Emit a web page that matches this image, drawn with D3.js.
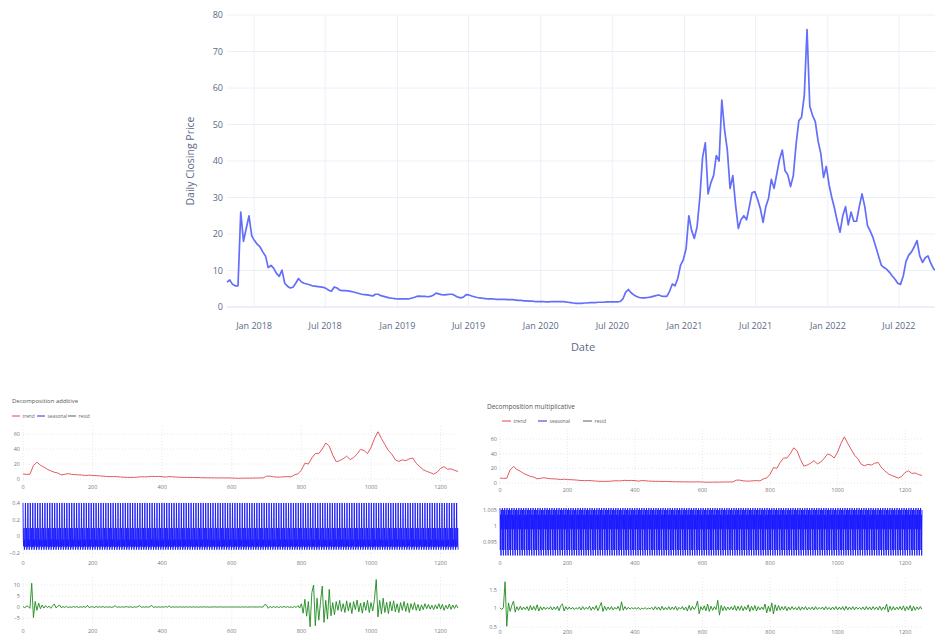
<!DOCTYPE html>
<html>
<head>
<meta charset="utf-8">
<script src="https://cdn.jsdelivr.net/npm/d3@7"></script>
<style>
    body { margin: 0; background: #fff; }
    svg { display: block; font-family: "Open Sans", "DejaVu Sans", sans-serif; }
</style>
</head>
<body>
<svg id="chart" width="935" height="636"></svg>
<script>
(function () {
    'use strict';

    // weekly closing price, first week starts here
    var startDate = new Date(2017, 9, 24);
    var weeklyClose = [
        6.8, 7.4, 6.2, 5.8, 5.8, 26.0, 18.0, 21.5, 25.0, 19.5,
        18.2, 17.2, 16.5, 15.1, 14.0, 10.8, 11.4, 10.6, 9.2, 8.4,
        10.1, 6.5, 5.7, 5.2, 5.4, 6.5, 7.8, 6.9, 6.5, 6.3,
        6.1, 5.8, 5.7, 5.6, 5.5, 5.4, 5.1, 4.6, 4.3, 5.5,
        5.2, 4.6, 4.5, 4.5, 4.4, 4.3, 4.1, 3.9, 3.7, 3.5,
        3.4, 3.3, 3.2, 3.0, 3.5, 3.5, 3.1, 2.9, 2.7, 2.5,
        2.4, 2.3, 2.2, 2.2, 2.2, 2.2, 2.2, 2.4, 2.6, 2.9,
        3.0, 2.9, 2.9, 2.8, 2.9, 3.2, 3.8, 3.6, 3.4, 3.3,
        3.4, 3.5, 3.5, 3.1, 2.7, 2.5, 2.7, 3.4, 3.3, 3.0,
        2.8, 2.6, 2.5, 2.4, 2.3, 2.2, 2.2, 2.2, 2.1, 2.1,
        2.1, 2.1, 2.0, 2.0, 2.0, 1.9, 1.8, 1.8, 1.7, 1.7,
        1.6, 1.6, 1.5, 1.5, 1.5, 1.5, 1.4, 1.4, 1.5, 1.5,
        1.5, 1.5, 1.5, 1.4, 1.3, 1.2, 1.1, 1.0, 1.0, 1.0,
        1.1, 1.1, 1.2, 1.2, 1.2, 1.3, 1.3, 1.3, 1.4, 1.4,
        1.4, 1.4, 1.4, 1.5, 2.2, 4.0, 4.8, 3.9, 3.3, 2.9,
        2.6, 2.5, 2.5, 2.6, 2.7, 2.9, 3.1, 3.3, 3.0, 2.9,
        2.9, 4.3, 6.3, 5.8, 7.9, 11.5, 13.0, 16.0, 25.0, 21.0,
        18.8, 22.0, 30.0, 41.0, 45.0, 31.0, 34.0, 36.0, 41.5, 40.0,
        56.7, 48.5, 43.0, 32.5, 36.0, 28.0, 21.5, 24.0, 25.0, 23.9,
        27.5, 31.3, 31.6, 29.5, 27.0, 23.2, 27.5, 29.8, 35.0, 32.5,
        36.5, 40.5, 43.0, 37.3, 36.2, 33.0, 36.0, 44.5, 51.0, 52.0,
        58.0, 76.0, 55.0, 52.5, 50.8, 45.5, 42.1, 35.5, 38.5, 33.5,
        30.0, 27.0, 23.5, 20.5, 25.0, 27.5, 22.5, 26.0, 23.5, 23.5,
        27.5, 31.0, 27.5, 22.3, 20.8, 19.0, 16.5, 14.0, 11.5, 10.8,
        10.3, 9.5, 8.5, 7.6, 6.5, 6.2, 8.5, 12.5, 14.2, 15.1,
        16.5, 18.2, 14.0, 12.2, 13.5, 14.0, 12.0, 10.5, 10.0, 10.2
    ];
    var priceTicks = [0, 10, 20, 30, 40, 50, 60, 70, 80];

    // decomposition: observation count, trend every 10 obs, residuals every 5 obs
    var nObs = 1251;
    var trendStep = 10;
    var trend = [
        6.8, 6.2, 6.5, 18, 22.5, 18.5, 16, 13, 11, 9,
        8, 5.6, 6.3, 7.2, 6.3, 5.8, 5.6, 5.3, 4.6, 5.2,
        4.6, 4.5, 4.2, 3.8, 3.4, 3.2, 3.3, 3.2, 2.7, 2.4,
        2.2, 2.2, 2.2, 2.6, 3.0, 2.9, 3.0, 3.6, 3.3, 3.5,
        3.2, 2.5, 3.3, 3.0, 2.6, 2.4, 2.2, 2.2, 2.1, 2.1,
        2.0, 1.8, 1.7, 1.6, 1.6, 1.5, 1.4, 1.5, 1.5, 1.5,
        1.3, 1.1, 1.0, 1.1, 1.2, 1.2, 1.3, 1.4, 1.4, 1.5,
        3.8, 3.9, 2.9, 2.5, 2.6, 3.0, 3.2, 2.9, 5.5, 6.8,
        12, 21, 20, 28, 34, 34, 40, 48, 44, 32,
        23, 24.5, 27, 30.5, 26, 28.5, 33.5, 39.5, 38, 34,
        42, 54, 63, 54, 46, 38, 33, 25.5, 23.5, 25.5,
        24.5, 27, 28, 21, 16.5, 12.5, 10.2, 8.6, 6.6, 9.0,
        14.3, 16.5, 13.0, 13.6, 11.5, 10.2
    ];
    var seasonalAddPattern = [0.40, -0.05, -0.12, 0.10, -0.16, -0.04, -0.13];
    var seasonalMultPattern = [1.0056, 0.9925, 1.0035, 0.9908, 1.0050, 0.9990, 1.0036];
    var residStep = 5;
    var residAdd = [
        0.3, -0.4, 0.5, 0.2, -0.6,
        10.8, -4.8, 2.5, -1.5, 1.8,
        -0.8, 0.9, -0.5, 0.6, -0.3, 0.4, -0.6, 0.5, 1.4, -0.4,
        0.3, 0.9, -0.3, 0.2, -0.2, 0.3, -0.3, 0.1, -0.2, 0.2, -0.1, 0.2, -0.2, 0.1, -0.1, 0.2, -0.2, 0.8, -0.3, 0.1,
        0.1, -0.2, 0.2, -0.1, 0.1, -0.1, 0.2, -0.2, 0.1, -0.1, 0.1, -0.2, 0.1, 0.6, -0.2, 0.1, -0.1, 0.1, -0.1, 0.1,
        0.1, -0.1, 0.1, -0.2, 0.1, -0.1, 0.2, 0.6, -0.2, 0.1, -0.1, 0.1, -0.1, 0.2, 0.7, -0.2, 0.1, -0.1, 0.1, -0.1,
        0.1, -0.1, 0.2, -0.1, 0.5, -0.2, 0.1, -0.1, 0.1, -0.1, 0.1, -0.1, 0.1, -0.1, 0.1, -0.1, 0.1, -0.1, 0.1, -0.1,
        0.1, -0.1, 0.05, -0.05, 0.1, -0.05, 0.05, -0.1, 0.05, -0.05, 0.1, -0.05, 0.05, -0.05, 0.1, -0.1, 0.05, -0.05, 0.05, -0.05,
        0.05, -0.05, 0.05, -0.05, 0.05, -0.05, 0.05, -0.05, 0.1, -0.1, 0.05, -0.05, 0.1, -0.05, 0.05, -0.05, 0.1, -0.1, 0.05, 1.2,
        0.8, -0.6, 0.3, -0.3, 0.2, -0.2, 0.2, -0.3, 0.2, -0.2, 0.3, -0.2, 0.2, -0.2, 0.1, -0.3, 0.3, -0.2, 0.6, -0.5,
        1.5, -2.8, 3.5, -4.2, 2.5, -9.0, 6.5, 10.0, -8.5, 4.0, -6.0, 2.5, 9.5, -7.0, 3.0, -5.5, 8.0, -4.0, 2.0, -3.5,
        2.5, -1.5, 3.0, -2.0, 1.5, -2.5, 2.8, -1.8, 2.0, -3.0, 2.5, -1.2, 3.2, -2.2, 1.8, -2.8, 2.2, -1.5, 3.0, -2.5,
        2.0, -1.8, 3.5, 12.5, -4.5, 3.0, -3.2, 4.0, -2.5, 2.2, -3.0, 2.5, -1.8, 2.8, -2.2, 1.5, -2.5, 2.0, -1.5, 2.5,
        -2.0, 1.8, -2.5, 1.5, -1.2, 2.0, -1.5, 1.2, -1.8, 1.0, -1.2, 1.5, -0.8, 1.2, -1.0, 0.8, -1.2, 1.0, -0.8, 1.5,
        -1.0, 1.2, -1.5, 0.8, -0.9, 1.3, -1.1, 0.9, -0.7, 1.0, -0.5
    ];
    var residMult = [
        1.02, 0.97, 1.03, 1.72, 0.52,
        1.15, 0.92, 1.08, 1.2, 0.9,
        1.05, 0.95, 1.06, 0.96, 1.04, 0.97, 1.05, 0.94, 1.08, 0.96,
        1.06, 0.95, 1.1, 0.93, 1.05, 0.96, 1.04, 0.97, 1.03, 0.98, 1.05, 0.96, 1.04, 0.97, 1.06, 0.94, 1.08, 1.12, 0.93, 1.05,
        0.97, 1.04, 0.98, 1.03, 0.97, 1.02, 0.98, 1.04, 0.96, 1.05, 0.97, 1.03, 0.98, 1.06, 0.95, 1.04, 0.97, 1.08, 0.94, 1.05,
        1.16, 0.92, 1.06, 0.95, 1.04, 0.97, 1.05, 0.96, 1.03, 0.98, 1.06, 0.94, 1.18, 0.95, 1.05, 0.97, 1.03, 0.98, 1.02, 0.99,
        1.02, 0.98, 1.03, 0.97, 1.01, 0.99, 1.02, 0.98, 1.01, 0.99, 1.03, 0.96, 1.05, 0.97, 1.04, 0.95, 1.06, 0.96, 1.03, 0.97,
        1.05, 0.96, 1.04, 0.97, 1.06, 0.95, 1.03, 0.98, 1.05, 0.96, 1.04, 0.93, 1.08, 0.95, 1.06, 0.97, 1.04, 1.2, 0.86, 1.05,
        0.96, 1.07, 0.94, 1.12, 0.92, 1.06, 0.95, 1.05, 0.97, 1.22, 0.82, 1.08, 0.94, 1.06, 0.95, 1.04, 0.96, 1.05, 0.96, 1.08,
        0.94, 1.06, 0.95, 1.07, 0.94, 1.05, 0.96, 1.1, 0.92, 1.06, 0.95, 1.08, 0.93, 1.05, 0.96, 1.04, 0.97, 1.12, 0.88, 1.06,
        0.92, 1.15, 0.85, 1.1, 0.94, 1.08, 0.95, 1.05, 0.96, 1.06, 0.94, 1.04, 0.96, 1.05, 0.97, 1.03, 0.96, 1.05, 0.95, 1.04,
        0.97, 1.05, 0.96, 1.03, 0.97, 1.04, 0.96, 1.05, 0.97, 1.03, 0.98, 1.04, 0.96, 1.05, 0.97, 1.03, 0.96, 1.04, 0.97, 1.05,
        0.96, 1.04, 0.97, 1.05, 0.95, 1.06, 0.96, 1.04, 0.97, 1.05, 0.96, 1.04, 0.98, 1.03, 0.97, 1.04, 0.96, 1.05, 0.97, 1.04,
        0.96, 1.05, 0.97, 1.04, 0.96, 1.06, 0.95, 1.04, 0.97, 1.12, 0.9, 1.06, 0.95, 1.05, 0.96, 1.04, 0.97, 1.05, 0.96, 1.07,
        0.94, 1.05, 0.96, 1.08, 0.93, 1.06, 0.95, 1.04, 0.97, 1.05, 0.98
    ];
    var obsTicks = [0, 200, 400, 600, 800, 1000, 1200];
    var legendNames = ['trend', 'seasonal', 'resid'];

    var svg = d3.select('#chart');

    // ---------- top chart: daily closing price ----------
    var box = { left: 227, right: 939, top: 15, bottom: 307 };
    var dates = weeklyClose.map(function (d, i) { return d3.timeDay.offset(startDate, 7 * i); });

    var x = d3.scaleTime()
        .domain(d3.extent(dates))
        .range([box.left, box.right]);
    var y = d3.scaleLinear()
        .domain([0, 80])
        .range([box.bottom, box.top]);
    var dateTicks = x.ticks(d3.timeMonth.every(6));

    var grid = svg.append('g');
    grid.selectAll('.vg')
        .data(dateTicks).enter()
        .append('line')
        .attr('x1', x).attr('x2', x)
        .attr('y1', box.top).attr('y2', box.bottom)
        .attr('stroke', '#EBF0F8');
    grid.selectAll('.hg')
        .data(priceTicks).enter()
        .append('line')
        .attr('x1', box.left).attr('x2', box.right)
        .attr('y1', y).attr('y2', y)
        .attr('stroke', '#EBF0F8')
        .attr('stroke-width', function (d) { return d === 0 ? 2 : 1; });

    svg.append('g').selectAll('text')
        .data(priceTicks).enter()
        .append('text')
        .attr('x', box.left - 4)
        .attr('y', function (d) { return y(d) + 3; })
        .attr('text-anchor', 'end')
        .attr('font-size', 9)
        .attr('fill', '#5a6a86')
        .text(function (d) { return d; });

    svg.append('g').selectAll('text')
        .data(dateTicks).enter()
        .append('text')
        .attr('x', x)
        .attr('y', 329)
        .attr('text-anchor', 'middle')
        .attr('font-size', 9)
        .attr('fill', '#5a6a86')
        .text(d3.timeFormat('%b %Y'));

    svg.append('text')
        .attr('x', (box.left + box.right) / 2)
        .attr('y', 351)
        .attr('text-anchor', 'middle')
        .attr('font-size', 11)
        .attr('fill', '#5a6a86')
        .text('Date');

    svg.append('text')
        .attr('transform', 'translate(194,' + ((box.top + box.bottom) / 2) + ') rotate(-90)')
        .attr('text-anchor', 'middle')
        .attr('font-size', 10.5)
        .attr('fill', '#5a6a86')
        .text('Daily Closing Price');

    svg.append('path')
        .datum(weeklyClose)
        .attr('fill', 'none')
        .attr('stroke', '#636efa')
        .attr('stroke-width', 1.7)
        .attr('stroke-linejoin', 'round')
        .attr('d', d3.line()
            .x(function (d, i) { return x(dates[i]); })
            .y(function (d) { return y(d); }));

    // ---------- decomposition panels ----------
    function tile(pattern) {
        return d3.range(nObs).map(function (i) { return pattern[i % pattern.length]; });
    }

    function panel(g, p, values, step, color) {
        var px = d3.scaleLinear().domain([0, 1250]).range([p.x0, p.x1]);
        var py = d3.scaleLinear().domain(p.domain).range([p.y1, p.y0]);

        g.selectAll(null)
            .data(obsTicks).enter()
            .append('line')
            .attr('x1', px).attr('x2', px)
            .attr('y1', p.y0).attr('y2', p.y1)
            .attr('stroke', '#d8d8d8')
            .attr('stroke-width', 0.6)
            .attr('stroke-dasharray', '1,2');
        g.selectAll(null)
            .data(p.ticks).enter()
            .append('line')
            .attr('x1', p.x0).attr('x2', p.x1)
            .attr('y1', py).attr('y2', py)
            .attr('stroke', '#d8d8d8')
            .attr('stroke-width', 0.6)
            .attr('stroke-dasharray', '1,2');

        g.selectAll(null)
            .data(p.ticks).enter()
            .append('text')
            .attr('x', p.x0 - 3)
            .attr('y', function (d) { return py(d) + 2; })
            .attr('text-anchor', 'end')
            .attr('font-size', 5.5)
            .attr('fill', '#777')
            .text(d3.format('~g'));
        g.selectAll(null)
            .data(obsTicks).enter()
            .append('text')
            .attr('x', px)
            .attr('y', p.labelY)
            .attr('text-anchor', 'middle')
            .attr('font-size', 5.5)
            .attr('fill', '#777')
            .text(function (d) { return d; });

        g.append('path')
            .datum(values)
            .attr('fill', 'none')
            .attr('stroke', color)
            .attr('stroke-width', 0.9)
            .attr('d', d3.line()
                .x(function (d, i) { return px(i * step); })
                .y(function (d) { return py(d); }));
    }

    function decomposition(cfg) {
        var g = svg.append('g');
        g.append('text')
            .attr('x', cfg.titleX).attr('y', cfg.titleY)
            .attr('font-size', cfg.titleSize)
            .attr('fill', '#555')
            .text(cfg.title);

        var colors = ['#e0474c', '#2f2fd8', '#4a6a4a'];
        var lg = g.selectAll('.legend')
            .data(legendNames).enter()
            .append('g')
            .attr('transform', function (d, i) {
                return 'translate(' + cfg.legendX[i] + ',' + cfg.legendY + ')';
            });
        lg.append('line')
            .attr('x1', 0).attr('x2', cfg.legendLine)
            .attr('stroke', function (d, i) { return colors[i]; })
            .attr('stroke-width', 1);
        lg.append('text')
            .attr('x', cfg.legendLine + 2.5)
            .attr('y', cfg.legendSize / 3)
            .attr('font-size', cfg.legendSize)
            .attr('fill', '#666')
            .text(function (d) { return d; });

        panel(g, Object.assign({ x0: cfg.x0, x1: cfg.x1 }, cfg.rows[0]), trend, trendStep, '#e0474c');
        panel(g, Object.assign({ x0: cfg.x0, x1: cfg.x1 }, cfg.rows[1]), tile(cfg.pattern), 1, '#1a1aff');
        panel(g, Object.assign({ x0: cfg.x0, x1: cfg.x1 }, cfg.rows[2]), cfg.resid, residStep, '#1f8a1f');
    }

    decomposition({
        title: 'Decomposition additive', titleX: 12, titleY: 403, titleSize: 6,
        legendX: [12, 37, 68], legendY: 416, legendLine: 8, legendSize: 4.8,
        x0: 23, x1: 458,
        pattern: seasonalAddPattern, resid: residAdd,
        rows: [
            { y0: 426, y1: 483, domain: [-5.3, 70.7], ticks: [0, 20, 40, 60], labelY: 489 },
            { y0: 499, y1: 557, domain: [-0.248, 0.448], ticks: [-0.2, 0, 0.2, 0.4], labelY: 565 },
            { y0: 577.3, y1: 627.9, domain: [-9.5, 13.5], ticks: [-5, 0, 5, 10], labelY: 632.5 }
        ]
    });

    decomposition({
        title: 'Decomposition multiplicative', titleX: 487, titleY: 409, titleSize: 6.5,
        legendX: [502, 538, 583], legendY: 421, legendLine: 9, legendSize: 5,
        x0: 500, x1: 922,
        pattern: seasonalMultPattern, resid: residMult,
        rows: [
            { y0: 430, y1: 487, domain: [-5.5, 72.3], ticks: [0, 20, 40, 60], labelY: 492 },
            { y0: 506, y1: 558, domain: [0.99, 1.00625], ticks: [0.995, 1, 1.005], labelY: 565 },
            { y0: 578, y1: 630, domain: [0.42, 1.82], ticks: [0.5, 1, 1.5], labelY: 634 }
        ]
    });
})();
</script>
</body>
</html>
